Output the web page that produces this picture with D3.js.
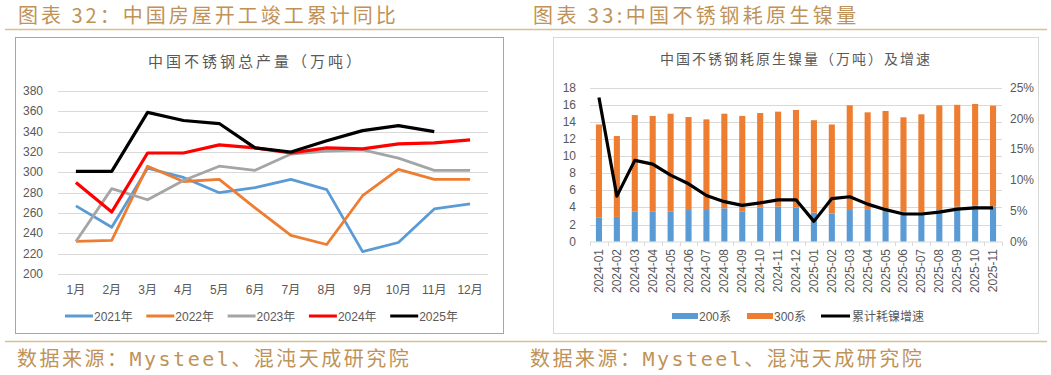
<!DOCTYPE html>
<html>
<head>
<meta charset="utf-8">
<script src="https://cdn.jsdelivr.net/npm/d3@7"></script>
<style>
    body { margin: 0; background: #fff; }
    text { font-family: "Liberation Sans", Arial, "Noto Sans CJK SC", sans-serif; }
</style>
</head>
<body>
<div id="chart"></div>
<script>
// left chart: stainless steel output by month
const months = ["1月", "2月", "3月", "4月", "5月", "6月", "7月", "8月", "9月", "10月", "11月", "12月"];
const output2021 = [267, 246, 304, 295, 280, 285, 293, 283, 222, 231, 264, 269];
const output2022 = [232, 233, 306, 291, 293, 265, 238, 229, 277, 303, 293, 293];
const output2023 = [232, 284, 273, 292, 306, 302, 318, 321, 322, 314, 302, 302];
const output2024 = [290, 261, 319, 319, 327, 324, 319, 324, 323, 328, 329, 332];
const output2025 = [301, 301, 359, 351, 348, 324, 320, 331, 341, 346, 340];
const yearNames = ["2021年", "2022年", "2023年", "2024年", "2025年"];
const outputTicks = [200, 220, 240, 260, 280, 300, 320, 340, 360, 380];

// right chart: primary nickel use
const periods = ["2024-01", "2024-02", "2024-03", "2024-04", "2024-05", "2024-06", "2024-07", "2024-08", "2024-09", "2024-10", "2024-11", "2024-12",
    "2025-01", "2025-02", "2025-03", "2025-04", "2025-05", "2025-06", "2025-07", "2025-08", "2025-09", "2025-10", "2025-11"];
const nickel200 = [2.8, 2.9, 3.5, 3.5, 3.5, 3.7, 3.7, 3.9, 3.5, 4.0, 4.1, 4.0, 3.4, 3.3, 3.7, 3.8, 3.6, 3.5, 3.4, 3.7, 4.1, 4.2, 4.1];
const nickel300 = [10.9, 9.45, 11.3, 11.2, 11.46, 10.87, 10.6, 11.06, 11.2, 11.04, 11.1, 11.4, 10.8, 10.4, 12.24, 11.32, 11.68, 11.04, 11.49, 12.24, 11.9, 11.9, 11.8];
const growthPct = [23.4, 7.4, 13.2, 12.6, 10.8, 9.4, 7.5, 6.5, 5.9, 6.3, 6.8, 6.8, 3.3, 7.0, 7.3, 6.1, 5.2, 4.5, 4.5, 4.8, 5.3, 5.5, 5.5];
const nickelTicks = [0, 2, 4, 6, 8, 10, 12, 14, 16, 18];
const growthTicks = [0, 5, 10, 15, 20, 25];
const nickelNames = ["200系", "300系", "累计耗镍增速"];

window.onload = init;

function init()
{
    const width = 1051, height = 375;
    const gold = "#BF9257", goldLine = "#D8BE92", grid = "#D9D9D9", label = "#595959";

    const svg = d3.select("#chart")
        .append("svg")
        .attr("width", width)
        .attr("height", height);

    // ---------- page frame: gold headings, rules, sources ----------
    const cjkSerif = "'Noto Sans CJK SC', sans-serif";
    const headings = [
        { x: 18, text: "图表 32：中国房屋开工竣工累计同比", spacing: "3px" },
        { x: 533, text: "图表 33:中国不锈钢耗原生镍量", spacing: "3.4px" }
    ];
    svg.selectAll(".heading").data(headings).enter().append("text")
        .attr("class", "heading")
        .attr("x", d => d.x).attr("y", 23)
        .style("font-family", cjkSerif)
        .style("font-size", "20px")
        .style("letter-spacing", d => d.spacing)
        .attr("fill", gold)
        .text(d => d.text);

    svg.append("line")                                                  // gold rules under headings and above sources
        .attr("x1", 5).attr("x2", 1047).attr("y1", 29.5).attr("y2", 29.5)
        .attr("stroke", goldLine).attr("stroke-width", 1.5);
    svg.append("line")
        .attr("x1", 5).attr("x2", 1047).attr("y1", 341.5).attr("y2", 341.5)
        .attr("stroke", goldLine).attr("stroke-width", 1.5);

    [17, 530].forEach(x => {
        svg.append("text")
            .attr("x", x).attr("y", 366)
            .style("font-family", "'DejaVu Sans Mono', 'Noto Sans CJK SC', monospace")
            .style("font-size", "20px")
            .style("letter-spacing", "2.5px")
            .attr("fill", gold)
            .text("数据来源：Mysteel、混沌天成研究院");
    });

    svg.append("rect")                                                  // chart boxes
        .attr("x", 15.5).attr("y", 37.5).attr("width", 488).attr("height", 296)
        .attr("fill", "none").attr("stroke", "#A6A6A6");
    svg.append("rect")
        .attr("x", 553.5).attr("y", 37.5).attr("width", 485).attr("height", 296)
        .attr("fill", "none").attr("stroke", "#D9D9D9");

    drawOutput();
    drawNickel();

    function drawOutput() {
        const g = svg.append("g");
        const x = d3.scaleBand().domain(months).range([58, 488]);
        const y = d3.scaleLinear().domain([200, 380]).range([274, 91]);
        const colors = ["#5B9BD5", "#ED7D31", "#A5A5A5", "#FF0000", "#000000"];
        const series = [output2021, output2022, output2023, output2024, output2025];

        g.append("text")
            .attr("x", 256).attr("y", 67)
            .attr("text-anchor", "middle")
            .style("font-family", cjkSerif)
            .style("font-size", "15px")
            .style("letter-spacing", "3px")
            .attr("fill", label)
            .text("中国不锈钢总产量（万吨）");

        g.selectAll(".grid").data(outputTicks).enter().append("line")
            .attr("x1", 58).attr("x2", 488)
            .attr("y1", d => Math.round(y(d)) + 0.5).attr("y2", d => Math.round(y(d)) + 0.5)
            .attr("stroke", grid);

        g.selectAll(".ylab").data(outputTicks).enter().append("text")
            .attr("x", 43).attr("y", d => y(d) + 4)
            .attr("text-anchor", "end")
            .style("font-size", "12px")
            .attr("fill", label)
            .text(d => d);

        g.selectAll(".xlab").data(months).enter().append("text")
            .attr("x", d => x(d) + x.bandwidth() / 2).attr("y", 294)
            .attr("text-anchor", "middle")
            .style("font-size", "12px")
            .attr("fill", label)
            .text(d => d);

        const line = d3.line()
            .x((d, i) => x(months[i]) + x.bandwidth() / 2)
            .y(d => y(d));

        series.forEach((s, i) => {
            g.append("path")
                .attr("d", line(s))
                .attr("fill", "none")
                .attr("stroke", colors[i])
                .attr("stroke-width", i >= 3 ? 3.2 : 2.8)
                .attr("stroke-linejoin", "round");
        });

        const legend = g.selectAll(".legend").data(yearNames).enter().append("g")   // legend row
            .attr("transform", (d, i) => `translate(${65 + i * 81.3}, 316)`);
        legend.append("line")
            .attr("x1", 0).attr("x2", 28)
            .attr("stroke", (d, i) => colors[i]).attr("stroke-width", 3);
        legend.append("text")
            .attr("x", 29).attr("y", 4.5)
            .style("font-size", "12px")
            .attr("fill", label)
            .text(d => d);
    }

    function drawNickel() {
        const g = svg.append("g");
        const x = d3.scaleBand().domain(periods).range([590, 1002]).paddingInner(0.66).paddingOuter(0.33);
        const xb = d3.scaleBand().domain(periods).range([590, 1002]);
        const y = d3.scaleLinear().domain([0, 18]).range([241.7, 87.7]);
        const yR = d3.scaleLinear().domain([0, 25]).range([241.7, 87.7]);
        const colors = ["#5B9BD5", "#ED7D31", "#000000"];

        g.append("text")
            .attr("x", 796).attr("y", 64)
            .attr("text-anchor", "middle")
            .style("font-family", cjkSerif)
            .style("font-size", "14px")
            .style("letter-spacing", "2px")
            .attr("fill", label)
            .text("中国不锈钢耗原生镍量（万吨）及增速");

        g.selectAll(".grid").data(nickelTicks.slice(1)).enter().append("line")
            .attr("x1", 590).attr("x2", 1002)
            .attr("y1", d => Math.round(y(d)) + 0.5).attr("y2", d => Math.round(y(d)) + 0.5)
            .attr("stroke", grid);

        g.selectAll(".ylab").data(nickelTicks).enter().append("text")
            .attr("x", 576).attr("y", d => y(d) + 4)
            .attr("text-anchor", "end")
            .style("font-size", "12px")
            .attr("fill", label)
            .text(d => d);

        g.selectAll(".yrlab").data(growthTicks).enter().append("text")
            .attr("x", 1010).attr("y", d => yR(d) + 4)
            .style("font-size", "12px")
            .attr("fill", label)
            .text(d => d + "%");

        const rows = periods.map((p, i) => ({ period: p, s200: nickel200[i], s300: nickel300[i] }));
        const stacked = d3.stack().keys(["s200", "s300"])(rows);

        g.selectAll(".layer").data(stacked).enter().append("g")
            .attr("fill", (d, i) => colors[i])
            .selectAll("rect").data(d => d).enter().append("rect")
            .attr("x", d => x(d.data.period))
            .attr("width", x.bandwidth())
            .attr("y", d => y(d[1]))
            .attr("height", d => y(d[0]) - y(d[1]));

        g.append("line")                                                // category axis with ticks between months
            .attr("x1", 590).attr("x2", 1002).attr("y1", 242).attr("y2", 242)
            .attr("stroke", grid);
        g.selectAll(".tick").data(periods.concat(["end"])).enter().append("line")
            .attr("x1", (d, i) => Math.round(590 + i * xb.step()) + 0.5)
            .attr("x2", (d, i) => Math.round(590 + i * xb.step()) + 0.5)
            .attr("y1", 242).attr("y2", 246)
            .attr("stroke", grid);

        g.selectAll(".xlab").data(periods).enter().append("text")
            .attr("transform", d => `translate(${xb(d) + xb.bandwidth() / 2 + 4}, 249) rotate(-90)`)
            .attr("text-anchor", "end")
            .style("font-size", "12px")
            .attr("fill", label)
            .text(d => d);

        const line = d3.line()
            .x((d, i) => xb(periods[i]) + xb.bandwidth() / 2)
            .y(d => yR(d));
        g.append("path")
            .attr("d", line(growthPct))
            .attr("fill", "none")
            .attr("stroke", "#000")
            .attr("stroke-width", 3.2)
            .attr("stroke-linejoin", "round");

        const legendX = [672, 747, 821];
        const legend = g.selectAll(".legend").data(nickelNames).enter().append("g")
            .attr("transform", (d, i) => `translate(${legendX[i]}, 316)`);
        legend.append("rect")
            .attr("x", 0).attr("y", (d, i) => i < 2 ? -3 : -1.5)
            .attr("width", (d, i) => i < 2 ? 26 : 29)
            .attr("height", (d, i) => i < 2 ? 6 : 3)
            .attr("fill", (d, i) => colors[i]);
        legend.append("text")
            .attr("x", (d, i) => i < 2 ? 27 : 31).attr("y", 4.5)
            .style("font-size", "12px")
            .attr("fill", label)
            .text(d => d);
    }
}
</script>
</body>
</html>
